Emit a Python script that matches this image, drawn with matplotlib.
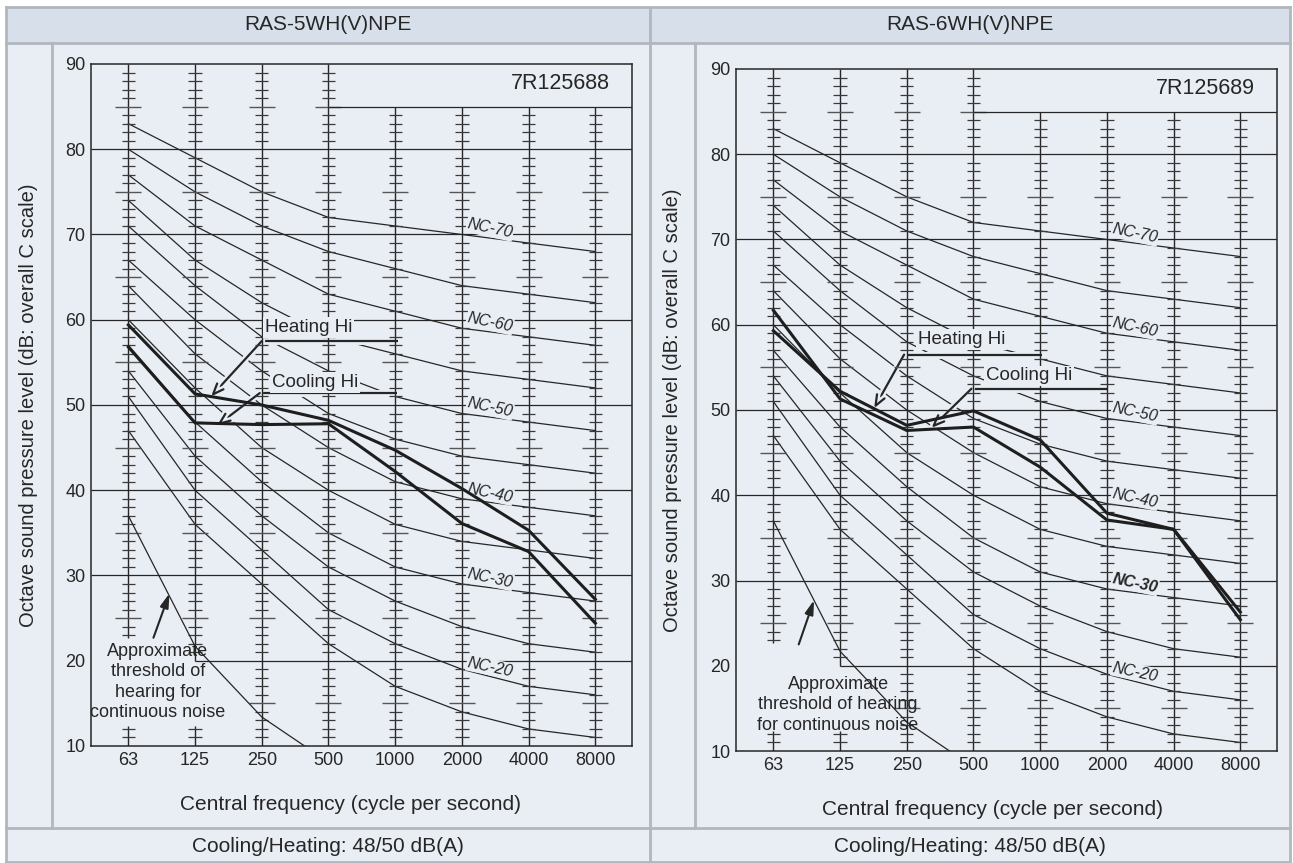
import matplotlib

matplotlib.use("Agg")

import matplotlib.patheffects as pe
import matplotlib.pyplot as plt
import numpy as np
from matplotlib.lines import Line2D
from matplotlib.patches import Rectangle

plt.rcParams["font.family"] = ["Liberation Sans", "DejaVu Sans"]

# ---- data -------------------------------------------------------------
FREQUENCIES = ["63", "125", "250", "500", "1000", "2000", "4000", "8000"]
DB_TICKS = [10, 20, 30, 40, 50, 60, 70, 80, 90]

# NC curves, octave band levels (dB) at 63 ... 8000 Hz
NC_15 = [47, 36, 29, 22, 17, 14, 12, 11]
NC_20 = [51, 40, 33, 26, 22, 19, 17, 16]
NC_25 = [54, 44, 37, 31, 27, 24, 22, 21]
NC_30 = [57, 48, 41, 35, 31, 29, 28, 27]
NC_35 = [60, 52, 45, 40, 36, 34, 33, 32]
NC_40 = [64, 56, 50, 45, 41, 39, 38, 37]
NC_45 = [67, 60, 54, 49, 46, 44, 43, 42]
NC_50 = [71, 64, 58, 54, 51, 49, 48, 47]
NC_55 = [74, 67, 62, 58, 56, 54, 53, 52]
NC_60 = [77, 71, 67, 63, 61, 59, 58, 57]
NC_65 = [80, 75, 71, 68, 66, 64, 63, 62]
NC_70 = [83, 79, 75, 72, 71, 70, 69, 68]
NC_CURVES = {15: NC_15, 20: NC_20, 25: NC_25, 30: NC_30, 35: NC_35, 40: NC_40,
             45: NC_45, 50: NC_50, 55: NC_55, 60: NC_60, 65: NC_65, 70: NC_70}
NC_LABELLED = [20, 30, 40, 50, 60, 70]

# approximate threshold of hearing (63, 125, 250, 500 Hz)
THRESHOLD = [37.0, 21.7, 13.4, 8.1]

MODELS = ["RAS-5WH(V)NPE", "RAS-6WH(V)NPE"]
CODES = ["7R125688", "7R125689"]
FOOTER = "Cooling/Heating: 48/50 dB(A)"

HEATING_5 = [59.4, 51.3, 50.0, 48.2, 44.7, 40.2, 35.3, 27.2]
COOLING_5 = [56.8, 47.9, 47.7, 47.8, 42.2, 36.1, 32.8, 24.4]
HEATING_6 = [59.3, 52.2, 48.2, 49.9, 46.5, 37.9, 36.0, 26.3]
COOLING_6 = [61.7, 51.3, 47.6, 48.0, 43.3, 37.1, 36.0, 25.4]

# ---- style / layout ---------------------------------------------------
W, H = 1293, 863
BG = "#e9eef5"
HEADER_BG = "#d6dfea"
FRAME = "#b2b7be"
INK = "#262626"
XLIM = (-0.56, 7.55)

PANELS = [
    dict(
        model=MODELS[0], code=CODES[0], heating=HEATING_5, cooling=COOLING_5,
        cell=(6, 650), inner=52, axes=(91, 64, 632, 746),
        heat_leader=dict(tip=(1.24, 51.0), corner=(2.0, 57.5), end=4.04, text=(2.05, 59.1)),
        cool_leader=dict(tip=(1.33, 47.6), corner=(1.97, 51.4), end=4.02, text=(2.15, 52.6)),
        thr_text=(0.44, 17.5), thr_lines="Approximate\nthreshold of\nhearing for\ncontinuous noise",
        thr_arrow=((0.376, 22.7), (0.616, 27.9)), bold_nc=None,
    ),
    dict(
        model=MODELS[1], code=CODES[1], heating=HEATING_6, cooling=COOLING_6,
        cell=(650, 1290), inner=695, axes=(736, 69, 1277, 751),
        heat_leader=dict(tip=(1.51, 50.2), corner=(1.96, 56.5), end=4.03, text=(2.17, 58.3)),
        cool_leader=dict(tip=(2.37, 47.9), corner=(2.97, 52.5), end=5.01, text=(3.19, 54.0)),
        thr_text=(0.97, 15.4), thr_lines="Approximate\nthreshold of hearing\nfor continuous noise",
        thr_arrow=((0.38, 22.5), (0.61, 27.7)), bold_nc=30,
    ),
]


def fig_line(fig, x0, y0, x1, y1, lw=2.0):
    fig.add_artist(Line2D([x0 / W, x1 / W], [1 - y0 / H, 1 - y1 / H],
                          transform=fig.transFigure, color=FRAME, lw=lw))


def draw_scale(ax):
    idx = np.arange(len(FREQUENCIES))
    short_y, short_x0, short_x1 = [], [], []
    long_y, long_x0, long_x1 = [], [], []
    for i in idx:
        top = 90 if i < 4 else 85
        spans = [(10, top)]
        if i == 0:
            spans = [(10, 12.3), (22.7, top)]
        elif i == 1:
            spans = [(10, 12.3), (20, top)]
        for lo, hi in spans:
            ax.vlines(i, lo, hi, color=INK, lw=1.0, zorder=2.7)
            for v in range(int(np.ceil(lo)), int(hi) + 1):
                if v <= lo or v >= hi or v % 10 == 0:
                    continue
                if v % 5 == 0:
                    long_y.append(v); long_x0.append(i - 0.195); long_x1.append(i + 0.195)
                else:
                    short_y.append(v); short_x0.append(i - 0.1); short_x1.append(i + 0.1)
    ax.hlines(short_y, short_x0, short_x1, color="#3a3a3a", lw=0.9, zorder=2.7)
    ax.hlines(long_y, long_x0, long_x1, color="#555555", lw=1.0, zorder=2.7)

    for level in DB_TICKS[2:-1]:
        ax.hlines(level, XLIM[0], XLIM[1], color=INK, lw=0.9, zorder=2.7)
    ax.hlines(20, 1, XLIM[1], color=INK, lw=0.9, zorder=2.7)
    ax.hlines(85, 3, XLIM[1], color=INK, lw=0.9, zorder=2.7)


def draw_leader(ax, leader, label):
    halo = [pe.withStroke(linewidth=5, foreground=BG)]
    (tx, ty), (cx, cy) = leader["tip"], leader["corner"]
    ax.plot([cx, leader["end"]], [cy, cy], color=INK, lw=1.6, zorder=2.5,
            solid_capstyle="butt", path_effects=halo)
    ax.annotate("", xy=(tx, ty), xytext=(cx, cy), zorder=2.5,
                arrowprops=dict(arrowstyle="->,head_length=0.55,head_width=0.22",
                                color=INK, lw=1.6, shrinkA=0, shrinkB=0,
                                mutation_scale=14, path_effects=halo))
    ax.text(*leader["text"], label, ha="left", va="center", fontsize=13.5, color=INK, zorder=3,
            bbox=dict(boxstyle="square,pad=0.1", fc=BG, ec="none"))


def draw_chart(ax, panel):
    idx = np.arange(len(FREQUENCIES))
    ax.set_xlim(*XLIM)
    ax.set_ylim(10, 90)
    ax.set_facecolor("none")
    for spine in ax.spines.values():
        spine.set_color(INK)
        spine.set_linewidth(1.1)
    ax.set_xticks(idx, FREQUENCIES)
    ax.set_yticks(DB_TICKS)
    ax.tick_params(axis="x", length=0, labelsize=13, colors=INK, pad=4)
    ax.tick_params(axis="y", length=0, labelsize=13, colors=INK, pad=4)

    draw_scale(ax)

    for level, values in NC_CURVES.items():
        ax.plot(idx, values, color=INK, lw=0.9, zorder=2)
    for level in NC_LABELLED:
        y = np.interp(5.42, idx, NC_CURVES[level]) + 1.1
        ax.text(5.42, y, f"NC-{level}", rotation=-12, style="italic", fontsize=11.5,
                fontweight="bold" if level == panel["bold_nc"] else "normal",
                ha="center", va="center", color=INK, zorder=3,
                bbox=dict(boxstyle="square,pad=0.05", fc=BG, ec="none"))

    ax.plot(np.arange(len(THRESHOLD)), THRESHOLD, color=INK, lw=0.9, zorder=3.5)
    ax.text(*panel["thr_text"], panel["thr_lines"], ha="center", va="center",
            fontsize=13, color=INK, linespacing=1.25, zorder=3)
    (ax0, ay0), (ax1, ay1) = panel["thr_arrow"]
    ax.annotate("", xy=(ax1, ay1), xytext=(ax0, ay0), zorder=3.5,
                arrowprops=dict(arrowstyle="-|>,head_length=0.6,head_width=0.18",
                                color=INK, lw=1.5, shrinkA=0, shrinkB=0, mutation_scale=14))

    draw_leader(ax, panel["heat_leader"], "Heating Hi")
    draw_leader(ax, panel["cool_leader"], "Cooling Hi")

    ax.plot(idx, panel["heating"], color="#1e1e1e", lw=2.2, zorder=5, solid_joinstyle="miter")
    ax.plot(idx, panel["cooling"], color="#1e1e1e", lw=2.2, zorder=5, solid_joinstyle="miter")

    ax.text(7.22, 87.7, panel["code"], ha="right", va="center", fontsize=15.5, color=INK)


def main() -> None:
    fig = plt.figure(figsize=(W / 100, H / 100), dpi=100, facecolor="white")

    fig.add_artist(Rectangle((6 / W, 0), 1284 / W, 1 - 7 / H, transform=fig.transFigure,
                             fc=BG, ec="none", zorder=0))
    fig.add_artist(Rectangle((6 / W, 1 - 43 / H), 1284 / W, 36 / H, transform=fig.transFigure,
                             fc=HEADER_BG, ec="none", zorder=0))
    for y in (7, 43, 828, 862):
        fig_line(fig, 6, y, 1290, y)
    for x in (6, 650, 1290):
        fig_line(fig, x, 7, x, 863)

    for panel in PANELS:
        c0, c1 = panel["cell"]
        x0, y0, x1, y1 = panel["axes"]
        fig_line(fig, panel["inner"], 43, panel["inner"], 828)
        ax = fig.add_axes([x0 / W, 1 - y1 / H, (x1 - x0) / W, (y1 - y0) / H])
        draw_chart(ax, panel)

        fig.text((c0 + c1) / 2 / W, 1 - 25 / H, panel["model"], ha="center", va="center",
                 fontsize=15, color=INK)
        fig.text((c0 + c1) / 2 / W, 1 - 846 / H, FOOTER, ha="center", va="center",
                 fontsize=15, color=INK)
        fig.text((panel["inner"] + c1) / 2 / W, 1 - (y1 + 58) / H,
                 "Central frequency (cycle per second)", ha="center", va="center",
                 fontsize=15, color=INK)
        fig.text((c0 + panel["inner"]) / 2 / W, 1 - (y0 + y1) / 2 / H,
                 "Octave sound pressure level (dB: overall C scale)", rotation=90,
                 ha="center", va="center", fontsize=14.5, color=INK)

    fig.savefig("out.png", dpi=100, facecolor=fig.get_facecolor())
    plt.close(fig)


if __name__ == "__main__":
    main()
